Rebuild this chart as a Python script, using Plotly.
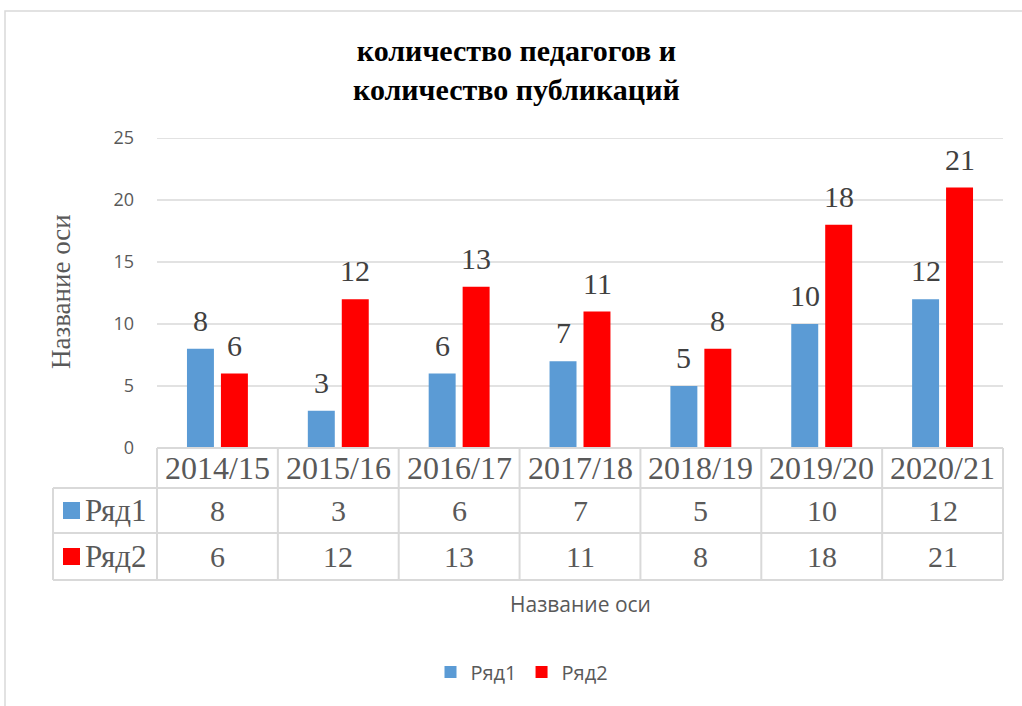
import plotly.graph_objects as go

categories = ["2014/15", "2015/16", "2016/17", "2017/18", "2018/19", "2019/20", "2020/21"]
series_names = ["Ряд1", "Ряд2"]
row1 = [8, 3, 6, 7, 5, 10, 12]
row2 = [6, 12, 13, 11, 8, 18, 21]
series_values = [row1, row2]
series_colors = ["#5B9BD5", "#FF0000"]
y_ticks = [0, 5, 10, 15, 20, 25]
title_text = "количество педагогов и<br>количество публикаций"
axis_title = "Название оси"

W, H = 1022, 706
L, R, T, B = 157, 19, 138, 258
PW, PH = W - L - R, H - T - B


def px(x):
    return (x - L) / PW


def py(y):
    return (H - B - y) / PH


SERIF = "Liberation Serif"
SANS = "Open Sans"
GRID = "#D9D9D9"
TXT = "#595959"

fig = go.Figure()
for name, vals, col in zip(series_names, series_values, series_colors):
    fig.add_trace(go.Bar(
        x=categories, y=vals, name=name, marker=dict(color=col, line=dict(width=0)),
    ))

shapes = []
annotations = []
# outer chart border
shapes.append(dict(type="rect", xref="paper", yref="paper", x0=px(5), x1=px(1030), y0=py(715), y1=py(11),
                   line=dict(color="#D9D9D9", width=1.5), layer="below"))
# gridlines
for t in y_ticks[1:]:
    shapes.append(dict(type="line", xref="paper", yref="y", x0=0, x1=1, y0=t, y1=t,
                       line=dict(color=GRID, width=1.3), layer="below"))

# data labels above bars
offsets = [-17, 17]
for vals, off in zip(series_values, offsets):
    for c, v in zip(categories, vals):
        annotations.append(dict(x=c, xref="x", y=v, yref="y", text=str(v), showarrow=False,
                                xshift=off, yshift=10, xanchor="center", yanchor="bottom",
                                font=dict(family=SERIF, size=30, color="#404040")))

# data table
n = len(categories)
y_hdr_top, y_r1_top, y_r2_top, y_bot = py(448), py(488), py(533), py(580)
x_left = px(53)
line_style = dict(color=GRID, width=2)
shapes.append(dict(type="line", xref="paper", yref="paper", x0=0, x1=1, y0=y_hdr_top, y1=y_hdr_top, line=line_style))
for yy in (y_r1_top, y_r2_top, y_bot):
    shapes.append(dict(type="line", xref="paper", yref="paper", x0=x_left, x1=1, y0=yy, y1=yy, line=line_style))
shapes.append(dict(type="line", xref="paper", yref="paper", x0=x_left, x1=x_left, y0=y_r1_top, y1=y_bot, line=line_style))
for i in range(n + 1):
    xx = i / n
    shapes.append(dict(type="line", xref="paper", yref="paper", x0=xx, x1=xx, y0=y_hdr_top, y1=y_bot, line=line_style))

row_centers = [(y_hdr_top + y_r1_top) / 2, (y_r1_top + y_r2_top) / 2, (y_r2_top + y_bot) / 2]
for c in categories:
    annotations.append(dict(x=c, xref="x", y=row_centers[0], yref="paper", text=c, showarrow=False,
                            font=dict(family=SERIF, size=32, color=TXT), xanchor="center", yanchor="middle"))
for r, (name, vals, col) in enumerate(zip(series_names, series_values, series_colors)):
    yc = row_centers[r + 1]
    for c, v in zip(categories, vals):
        annotations.append(dict(x=c, xref="x", y=yc, yref="paper", text=str(v), showarrow=False,
                                font=dict(family=SERIF, size=30, color=TXT), xanchor="center", yanchor="middle"))
    shapes.append(dict(type="rect", xref="paper", yref="paper", x0=px(63), x1=px(80),
                       y0=yc - 8.5 / PH, y1=yc + 8.5 / PH, fillcolor=col, line=dict(width=0)))
    annotations.append(dict(x=px(83), xref="paper", y=yc, yref="paper", text=name, showarrow=False,
                            font=dict(family=SERIF, size=31, color=TXT), xanchor="left", yanchor="middle"))

# axis titles
annotations.append(dict(x=px(580), xref="paper", y=py(604), yref="paper", text=axis_title, showarrow=False,
                        font=dict(family=SANS, size=21, color=TXT), xanchor="center", yanchor="middle"))
annotations.append(dict(x=px(61), xref="paper", y=py(292), yref="paper", text=axis_title, showarrow=False,
                        textangle=-90, font=dict(family=SERIF, size=27, color=TXT),
                        xanchor="center", yanchor="middle"))

# title as annotation for precise placement
annotations.append(dict(x=px(516), xref="paper", y=py(70), yref="paper", text=title_text, showarrow=False,
                        font=dict(family=SERIF, size=30, color="black", weight="bold"),
                        xanchor="center", yanchor="middle", align="center"))

fig.update_layout(
    width=W, height=H,
    margin=dict(l=L, r=R, t=T, b=B),
    paper_bgcolor="white", plot_bgcolor="white",
    barmode="group", bargap=0.438, bargroupgap=0.206,
    xaxis=dict(showticklabels=False, showgrid=False, zeroline=False, showline=False, ticks="",
               range=[-0.5, n - 0.5]),
    yaxis=dict(range=[0, 25], tickvals=y_ticks, showgrid=False, zeroline=False, showline=False,
               ticks="", ticklabelstandoff=22, tickfont=dict(family=SANS, size=18, color=TXT)),
    legend=dict(orientation="h", x=px(522), xanchor="center", y=py(672), yanchor="middle",
                font=dict(family=SANS, size=20, color=TXT), traceorder="normal"),
    shapes=shapes, annotations=annotations,
    showlegend=True,
)

fig.write_html("out.html", config={"displayModeBar": False},
               post_script="document.body.style.margin='0';document.body.style.overflow='hidden';")
